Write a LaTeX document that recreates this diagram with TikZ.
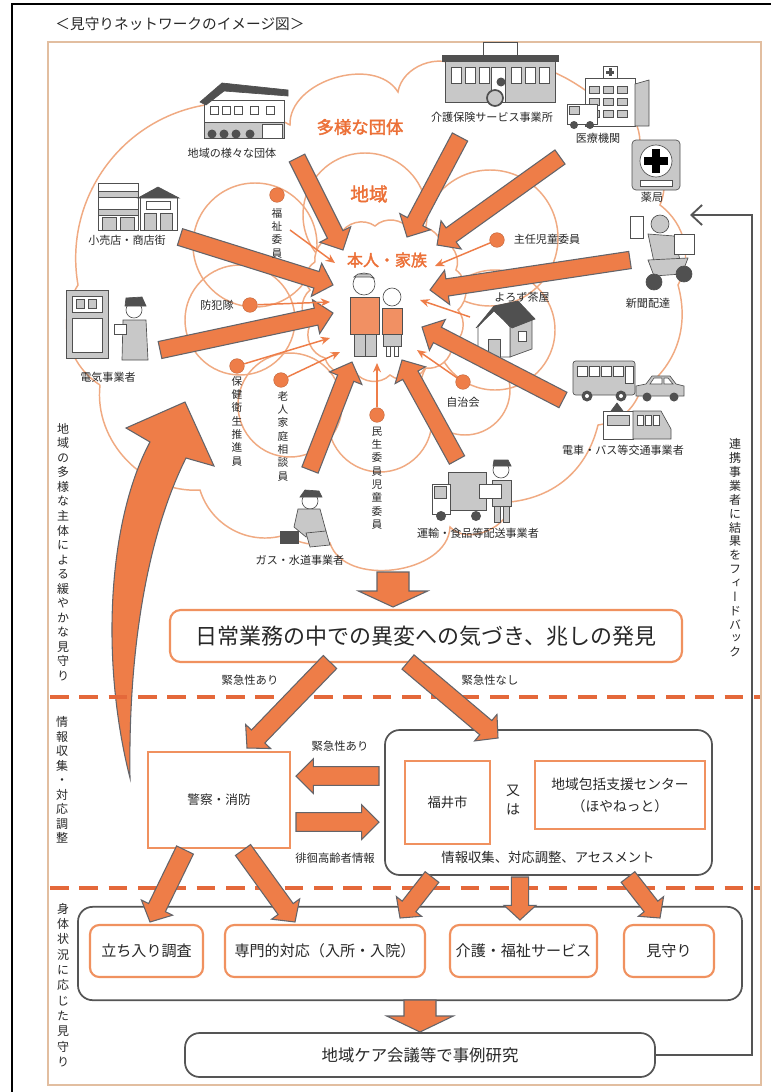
\documentclass[tikz,border=0pt]{standalone}
\usepackage{fontspec}
\setmainfont{Noto Sans CJK JP}
\newfontfamily\vjp[RawFeature={+vert}]{Noto Sans CJK JP}
\newfontfamily\jpbold[FakeBold=2]{Noto Sans CJK JP}
\usetikzlibrary{calc,arrows.meta}

\definecolor{arrowfill}{RGB}{238,125,72}
\definecolor{arrowedge}{RGB}{100,100,105}
\definecolor{cloudline}{RGB}{240,170,130}
\definecolor{boxorange}{RGB}{240,145,95}
\definecolor{dashorange}{RGB}{228,104,58}
\definecolor{panelline}{RGB}{226,190,160}
\definecolor{labelorange}{RGB}{236,112,55}
\definecolor{iconfill}{RGB}{200,200,200}
\definecolor{icondark}{RGB}{80,80,80}
\definecolor{grayline}{RGB}{85,85,85}
\definecolor{textgray}{RGB}{40,40,40}

\tikzset{
  fat/.style={fill=arrowfill, draw=arrowedge, line width=0.8pt, line join=miter},
  thinarrow/.style={draw=arrowfill, line width=1.1pt, -{Stealth[length=7pt,width=6pt]}},
  cloudedge/.style={draw=cloudline, line width=1.1pt},
  itemlabel/.style={font=\fontsize{8.3}{9}\selectfont, text=textgray, inner sep=0pt},
  memberlabel/.style={font=\vjp\fontsize{8}{10}\selectfont, align=center, inner sep=0pt, text=textgray},
  sidelabel/.style={font=\vjp\fontsize{9}{10.9}\selectfont, align=center, inner sep=0pt, text=textgray},
  cloudlabel/.style={font=\jpbold, text=labelorange, inner sep=0pt},
  memberdot/.style={circle, fill=arrowfill, draw=arrowfill!80!black, line width=0.3pt, minimum size=11pt, inner sep=0pt},
  obox/.style={draw=boxorange, line width=1.6pt, fill=white, inner sep=0pt, text=textgray},
  gbox/.style={draw=grayline, line width=1.3pt, rounded corners=11pt, inner sep=0pt},
  smalltext/.style={font=\fontsize{8.5}{9}\selectfont, text=textgray, inner sep=0pt},
  dashsep/.style={draw=dashorange, line width=3pt, dash pattern=on 14pt off 8pt},
  icon/.style={fill=iconfill, draw=icondark, line width=0.5pt},
  iconw/.style={fill=white, draw=icondark, line width=0.5pt},
  icond/.style={fill=icondark, draw=icondark, line width=0.5pt},
  feedback/.style={draw=grayline, line width=1.4pt, -{Straight Barb[length=8pt,width=15pt]}},
}

% broad arrow: tail, tip, half shaft width, half head width, head length
\newcommand\fatarrow[5]{%
  \coordinate (fabase) at ($(#2)!#5!(#1)$);
  \draw[fat] ($(#1)!#3!90:(#2)$) -- ($(fabase)!#3!90:(#2)$) -- ($(fabase)!#4!90:(#2)$) -- (#2)
    -- ($(fabase)!#4!-90:(#2)$) -- ($(fabase)!#3!-90:(#2)$) -- ($(#1)!#3!-90:(#2)$) -- cycle;}

\begin{document}
\begin{tikzpicture}[x=0.75pt, y=-0.75pt]
\fill[white] (0,0) rectangle (771,1092);
\useasboundingbox (0,0) rectangle (771,1092);

% ---------- frame and panel ----------
\draw[line width=1.4pt] (12,1092) -- (12,4) -- (771,4);
\node[font=\fontsize{11}{12}\selectfont, text=textgray, inner sep=0pt] (title) at (180,24) {＜見守りネットワークのイメージ図＞};
\draw[draw=panelline, line width=1.6pt] (48,42) rectangle (761,1085);

% ---------- outer cloud: various organisations ----------
\draw[cloudedge] (100,385) to[bend left=45] (78,285) to[bend left=45] (205,105)
  to[bend left=15] (290,125) to[bend left=75] (398,92) to[bend left=60] (460,68)
  to[bend left=25] (585,90) to[bend left=45] (640,142) to[bend left=40] (660,205)
  to[bend left=40] (678,285) to[bend left=35] (640,392) to[bend left=30] (598,425)
  to[bend left=35] (510,502) to[bend left=70] (450,527) to[bend left=80] (330,543)
  to[bend left=20] (285,535) to[bend left=45] (200,490) to[bend left=50] (100,385);

% ---------- middle cloud: local community (overlapping circles) ----------
\foreach \cx/\cy/\r in {255/245/62, 365/215/62, 490/238/68, 495/330/60, 465/390/45,
                        380/420/52, 290/405/52, 240/320/55}
  \draw[cloudedge] (\cx,\cy) circle (\r);

% ---------- inner cloud around the family ----------
\draw[cloudedge, fill=white] (315,262) to[bend left=50] (340,235) to[bend left=50] (375,226)
  to[bend left=50] (410,230) to[bend left=50] (440,240) to[bend left=50] (456,270)
  to[bend left=50] (458,310) to[bend left=50] (452,345) to[bend left=50] (425,368)
  to[bend left=50] (390,375) to[bend left=50] (355,372) to[bend left=50] (325,358)
  to[bend left=50] (310,325) to[bend left=50] (310,290) to[bend left=50] (315,262);

% ---------- pictograms ----------
% community group house
\begin{scope}[shift={(200,80)}]
  \draw[iconw] (4,20) rectangle (84,58);
  \draw[icon] (4,42) rectangle (84,58);
  \draw[icond] (0,22) -- (22,3) -- (88,10) -- (88,16) -- (24,11) -- (6,25) -- cycle;
  \foreach \x in {10,22,34,50,66} \draw[iconw] (\x,26) rectangle ++(8,8);
  \draw[iconw] (62,44) rectangle (82,58);
  \foreach \x in {12,24,36,50} \fill[icondark] (\x,54) circle (4.5);
\end{scope}
% care service office
\begin{scope}[shift={(445,40)}]
  \draw[icon] (0,20) rectangle (110,62);
  \draw[icond] (-3,15) rectangle (113,21);
  \draw[iconw] (38,2) rectangle (72,15);
  \foreach \x in {6,20,34,66,80,94} \draw[iconw] (\x,27) rectangle ++(10,16);
  \draw[iconw] (46,27) rectangle (60,62);
  \draw[icondark, line width=1.3pt, fill=iconfill] (50,58) circle (8);
  \fill[icondark] (56,42) circle (4.5);
\end{scope}
% hospital
\begin{scope}[shift={(567,66)}]
  \draw[iconw] (18,12) rectangle (68,60);
  \draw[icon] (68,18) -- (82,14) -- (82,60) -- (68,60) -- cycle;
  \foreach \y in {20,32,44} \foreach \x in {22,36,50} \draw[icon] (\x,\y) rectangle ++(10,7);
  \draw[iconw] (36,0) rectangle (50,12);
  \fill[icondark] (41.5,2) rectangle (44.5,10);
  \fill[icondark] (39,4.5) rectangle (47,7.5);
  \draw[iconw] (0,38) rectangle (30,58);
  \draw[icon] (2,40) rectangle (12,48);
  \fill[icondark] (7,59) circle (4) (23,59) circle (4);
\end{scope}
% pharmacy sign
\begin{scope}[shift={(632,140)}]
  \draw[icon, rounded corners=3pt] (0,0) rectangle (48,50);
  \draw[iconw] (24,21) circle (16);
  \fill[black] (20,9) rectangle (28,33);
  \fill[black] (12,17) rectangle (36,25);
  \draw[iconw] (8,40) rectangle (40,46);
\end{scope}
% newspaper delivery rider
\begin{scope}[shift={(630,210)}]
  \draw[iconw] (0,6) rectangle (13,28);
  \draw[icon] (30,14) circle (9);
  \draw[icon] (18,24) -- (44,26) -- (50,50) -- (24,52) -- cycle;
  \draw[iconw] (44,24) rectangle (64,44);
  \draw[icon] (18,50) -- (58,48) -- (52,64) -- (24,66) -- cycle;
  \draw[icond] (24,72) circle (8);
  \draw[icond] (54,64) circle (8);
\end{scope}
% shops
\begin{scope}[shift={(98,183)}]
  \draw[iconw] (0,0) rectangle (40,47);
  \draw[icon] (0,8) rectangle (40,14);
  \draw[icon] (0,26) rectangle (40,32);
  \draw[icon] (4,34) rectangle (18,47);
  \draw[icon] (22,34) rectangle (36,47);
  \draw[iconw] (42,14) rectangle (79,47);
  \draw[icond] (40,15) -- (60,4) -- (81,15) -- cycle;
  \draw[icon] (46,30) rectangle (58,47);
  \draw[icon] (62,30) rectangle (74,47);
  \draw[iconw] (48,18) rectangle (72,26);
\end{scope}
% electricity meter and reader
\begin{scope}[shift={(66,290)}]
  \draw[icon] (0,0) rectangle (42,68);
  \draw[iconw] (6,6) rectangle (36,22);
  \draw[icon] (10,9) rectangle (18,18);
  \draw[icon] (22,9) rectangle (30,18);
  \draw[iconw] (6,28) rectangle (36,62);
  \draw[iconw] (68,20) circle (8);
  \draw[icond] (59,16) -- (60,8) -- (76,7) -- (80,16) -- cycle;
  \draw[icon] (57,30) -- (80,30) -- (82,70) -- (56,70) -- cycle;
  \draw[iconw] (48,34) rectangle (60,44);
\end{scope}
% tea room house
\begin{scope}[shift={(478,303)}]
  \draw[icon] (32,24) -- (54,16) -- (54,46) -- (32,54) -- cycle;
  \draw[iconw] (0,24) -- (16,6) -- (32,24) -- (32,54) -- (0,54) -- cycle;
  \draw[icond] (-2,25) -- (16,3) -- (40,-2) -- (57,16) -- (34,25) -- (16,8) -- cycle;
  \draw[icon] (10,36) rectangle (22,54);
  \draw[iconw] (40,28) rectangle (48,38);
\end{scope}
% bus, car and train
\begin{scope}[shift={(573,361)}]
  \draw[icon, rounded corners=2pt] (0,0) rectangle (62,34);
  \foreach \x in {4,16,28,40} \draw[iconw] (\x,5) rectangle ++(10,10);
  \draw[iconw] (52,5) rectangle (60,22);
  \fill[icondark] (14,35) circle (5.5) (48,35) circle (5.5);
  \fill[white] (14,35) circle (2) (48,35) circle (2);
\end{scope}
\begin{scope}[shift={(636,374)}]
  \draw[icon] (0,12) -- (10,10) -- (16,2) -- (34,2) -- (40,10) -- (48,12) -- (48,22) -- (0,22) -- cycle;
  \draw[iconw] (18,4) -- (26,4) -- (26,10) -- (14,10) -- cycle;
  \draw[iconw] (28,4) -- (32,4) -- (37,10) -- (28,10) -- cycle;
  \fill[icondark] (11,23) circle (4.5) (38,23) circle (4.5);
\end{scope}
\begin{scope}[shift={(603,403)}]
  \draw[icond] (8,8) -- (14,0) -- (20,8);
  \draw[iconw] (0,8) rectangle (30,36);
  \draw[icon] (30,8) -- (58,8) -- (68,26) -- (68,36) -- (30,36) -- cycle;
  \foreach \x in {34,42,50} \draw[iconw] (\x,12) rectangle ++(6,10);
  \draw[icon] (4,12) rectangle (26,22);
\end{scope}
% delivery truck and driver
\begin{scope}[shift={(432,472)}]
  \draw[icon] (16,0) rectangle (54,38);
  \draw[iconw] (0,12) rectangle (18,42);
  \draw[icon] (2,14) rectangle (14,26);
  \fill[icondark] (9,44) circle (5) (44,44) circle (5);
\end{scope}
\begin{scope}[shift={(487,458)}]
  \draw[iconw] (14,12) circle (8);
  \draw[icond] (6,8) -- (7,2) -- (21,2) -- (24,8) -- cycle;
  \draw[icon] (5,22) rectangle (24,48);
  \draw[iconw] (-8,26) rectangle (14,40);
  \draw[icon] (7,48) rectangle (13,64);
  \draw[icon] (16,48) rectangle (22,64);
\end{scope}
% gas and water worker
\begin{scope}[shift={(280,487)}]
  \draw[iconw] (30,14) circle (8);
  \draw[icond] (20,10) -- (25,3) -- (39,4) -- (42,10) -- cycle;
  \draw[icon] (18,22) -- (40,22) -- (46,44) -- (26,50) -- (14,40) -- cycle;
  \draw[icon] (26,46) -- (46,44) -- (50,58) -- (30,60) -- cycle;
  \draw[icond] (0,44) rectangle (18,56);
\end{scope}
% elderly couple
\begin{scope}[shift={(348,272)}]
  \draw[iconw] (16,12) circle (11);
  \draw[icon] (6,5) -- (10,2) -- (22,2) -- (26,6) -- (22,5) -- (10,5) -- cycle;
  \draw[fill=arrowfill!85, draw=icondark, line width=0.5pt] (2,25) rectangle (31,62);
  \draw[icon] (6,62) rectangle (28,84);
  \draw[icondark] (17,62) -- (17,84);
  \draw[iconw] (44,25) circle (9);
  \draw[fill=arrowfill!85, draw=icondark, line width=0.5pt] (34,36) rectangle (54,62);
  \draw[icon] (35,62) rectangle (53,74);
  \draw[iconw] (38,74) rectangle (42,84);
  \draw[iconw] (46,74) rectangle (50,84);
\end{scope}

% ---------- broad arrows toward the family ----------
\coordinate (t1) at (297,158); \coordinate (h1) at (343,250);
\coordinate (t2) at (460,137); \coordinate (h2) at (407,237);
\coordinate (t3) at (560,157); \coordinate (h3) at (437,245);
\coordinate (t4) at (630,260); \coordinate (h4) at (430,290);
\coordinate (t5) at (563,400); \coordinate (h5) at (422,327);
\coordinate (t6) at (457,460); \coordinate (h6) at (402,360);
\coordinate (t7) at (310,470); \coordinate (h7) at (352,362);
\coordinate (t8) at (160,350); \coordinate (h8) at (333,313);
\coordinate (t9) at (180,237); \coordinate (h9) at (333,285);
\foreach \i in {1,...,9} {\fatarrow{t\i}{h\i}{6.5pt}{13pt}{13pt}}

% ---------- curved arrow: gentle watching by many actors ----------
\filldraw[fat] (185,402) -- (214,466) -- (186,458)
  .. controls (150,530) and (128,640) .. (130,778)
  .. controls (100,660) and (108,520) .. (150,442)
  -- (126,428) -- cycle;

% ---------- local members (dots, labels, thin arrows) ----------
\node[memberdot] (dfukushi) at (277,195) {};
\node[memberdot] (dshunin) at (497,240) {};
\node[memberdot] (dbouhan) at (250,305) {};
\node[memberdot] (djichi) at (463,382) {};
\node[memberdot] (dminsei) at (377,415) {};
\node[memberdot] (droujin) at (281,380) {};
\node[memberdot] (dhoken) at (237,366) {};

\coordinate (afukushi) at (335,263);
\coordinate (ashunin) at (435,266);
\coordinate (abouhan) at (330,302);
\coordinate (ayorozu) at (420,300);
\coordinate (ajichi) at (417,350);
\coordinate (aminsei) at (377,363);
\coordinate (aroujin) at (340,352);
\coordinate (ahoken) at (330,338);
\coordinate (syorozu) at (470,317);
\coordinate (sfukushi) at (290,230);

\draw[thinarrow] (sfukushi) -- (afukushi);
\draw[thinarrow] (dshunin) -- (ashunin);
\draw[thinarrow] (dbouhan) -- (abouhan);
\draw[thinarrow] (syorozu) -- (ayorozu);
\draw[thinarrow] (djichi) -- (ajichi);
\draw[thinarrow] (dminsei) -- (aminsei);
\draw[thinarrow] (droujin) -- (aroujin);
\draw[thinarrow] (dhoken) -- (ahoken);

\node[memberlabel] (lfukushi) at (277,233) {福\\祉\\委\\員};
\node[itemlabel] (lshunin) at (547,239) {主任児童委員};
\node[itemlabel] (lbouhan) at (217,305) {防犯隊};
\node[itemlabel] (lyorozu) at (522,297) {よろず茶屋};
\node[itemlabel] (ljichi) at (463,402) {自治会};
\node[memberlabel] (lminsei) at (377,478) {民\\生\\委\\員\\児\\童\\委\\員};
\node[memberlabel] (lroujin) at (283,436) {老\\人\\家\\庭\\相\\談\\員};
\node[memberlabel] (lhoken) at (237,421) {保\\健\\衛\\生\\推\\進\\員};

% ---------- organisation labels ----------
\node[itemlabel] (ldantai) at (232,153) {地域の様々な団体};
\node[itemlabel] (lkaigo) at (492,117) {介護保険サービス事業所};
\node[itemlabel] (liryou) at (598,138) {医療機関};
\node[itemlabel] (lyakkyoku) at (652,197) {薬局};
\node[itemlabel] (lshinbun) at (648,303) {新聞配達};
\node[itemlabel] (lshouten) at (127,240) {小売店・商店街};
\node[itemlabel] (ldenki) at (108,377) {電気事業者};
\node[itemlabel] (lkoutsu) at (623,450) {電車・バス等交通事業者};
\node[itemlabel] (lunyu) at (478,533) {運輸・食品等配送事業者};
\node[itemlabel] (lgas) at (300,560) {ガス・水道事業者};

\node[cloudlabel, font=\jpbold\fontsize{13}{14}\selectfont] (ltayou) at (360,127) {多様な団体};
\node[cloudlabel, font=\jpbold\fontsize{14}{15}\selectfont] (lchiiki) at (369,194) {地域};
\node[cloudlabel, font=\jpbold\fontsize{12}{13}\selectfont] (lhonnin) at (387,260) {本人・家族};

% ---------- detection and coordination ----------
\coordinate (dtail) at (393,572); \coordinate (dtip) at (393,607);
\fatarrow{dtail}{dtip}{12pt}{26pt}{12pt}

\node[obox, rounded corners=8pt, minimum width=384pt, minimum height=39pt,
      font=\fontsize{16.5}{18}\selectfont] (kizuki) at (426,636) {日常業務の中での異変への気づき、兆しの発見};

\node[smalltext] (kin1) at (250,680) {緊急性あり};
\node[smalltext] (kin2) at (490,680) {緊急性なし};

\draw[dashsep] (50,697) -- (760,697);
\draw[dashsep] (50,888) -- (760,888);

\node[obox, minimum width=106.5pt, minimum height=72pt, font=\fontsize{9.5}{11}\selectfont] (keisatsu) at (219,800) {警察・消防};
\node[gbox, minimum width=245.25pt, minimum height=108.75pt] (center) at (548.5,802.5) {};
\node[obox, minimum width=63.75pt, minimum height=62.25pt, font=\fontsize{10}{11}\selectfont] (fukui) at (447.5,802.5) {福井市};
\node[font=\fontsize{10.5}{14}\selectfont, align=center, inner sep=0pt, text=textgray] (mataha) at (513,800) {又\\は};
\node[obox, minimum width=127.5pt, minimum height=51pt, align=center,
      font=\fontsize{10.3}{16.5}\selectfont] (houkatsu) at (620,795) {地域包括支援センター\\（ほやねっと）};
\node[font=\fontsize{10}{11}\selectfont, text=textgray, inner sep=0pt] (assess) at (548,857) {情報収集、対応調整、アセスメント};
\node[smalltext] (kin3) at (340,746) {緊急性あり};
\node[smalltext] (haikai) at (335,858) {徘徊高齢者情報};

\coordinate (k1) at (330,662); \coordinate (k1e) at (247,748);
\coordinate (k2) at (408,662); \coordinate (k2e) at (498,738);
\fatarrow{k1}{k1e}{7pt}{13pt}{12pt}
\fatarrow{k2}{k2e}{7pt}{13pt}{12pt}

\coordinate (l1) at (379,776); \coordinate (l1e) at (296,776);
\coordinate (r1) at (296,822); \coordinate (r1e) at (379,822);
\fatarrow{l1}{l1e}{7pt}{13pt}{13pt}
\fatarrow{r1}{r1e}{7pt}{13pt}{13pt}

% ---------- responses according to condition ----------
\node[gbox, minimum width=498pt, minimum height=70pt] (taiou) at (410,953.5) {};
\node[obox, rounded corners=7pt, minimum width=84.75pt, minimum height=39pt, font=\fontsize{11.3}{12}\selectfont] (tachiiri) at (146.5,951) {立ち入り調査};
\node[obox, rounded corners=7pt, minimum width=150pt, minimum height=39pt, font=\fontsize{11.3}{12}\selectfont] (senmon) at (325,951) {専門的対応（入所・入院）};
\node[obox, rounded corners=7pt, minimum width=110.25pt, minimum height=39pt, font=\fontsize{11.3}{12}\selectfont] (kaigosv) at (523.5,951) {介護・福祉サービス};
\node[obox, rounded corners=7pt, minimum width=67.5pt, minimum height=39pt, font=\fontsize{11.3}{12}\selectfont] (mimamori) at (669,951) {見守り};

\coordinate (p1) at (185,850); \coordinate (p1e) at (150,922);
\coordinate (p2) at (243,850); \coordinate (p2e) at (295,922);
\coordinate (q1) at (432,877); \coordinate (q1e) at (400,918);
\coordinate (q2) at (520,877); \coordinate (q2e) at (520,920);
\coordinate (q3) at (628,877); \coordinate (q3e) at (660,918);
\fatarrow{p1}{p1e}{7pt}{13pt}{12pt}
\fatarrow{p2}{p2e}{7pt}{13pt}{12pt}
\fatarrow{q1}{q1e}{6.5pt}{12pt}{11pt}
\fatarrow{q2}{q2e}{6.5pt}{12pt}{11pt}
\fatarrow{q3}{q3e}{6.5pt}{12pt}{11pt}

\coordinate (btail) at (420,1000); \coordinate (btip) at (420,1032);
\fatarrow{btail}{btip}{12pt}{25pt}{12pt}

\node[gbox, minimum width=352.5pt, minimum height=33pt, font=\fontsize{12.3}{13}\selectfont, text=textgray] (kenkyu) at (420,1055) {地域ケア会議等で事例研究};

% feedback to the partner businesses
\coordinate (fbcorner) at (752,215);
\coordinate (fbend) at (690,215);
\draw[feedback] (kenkyu.east) -| (fbcorner) -- (fbend);

% ---------- side captions ----------
\node[sidelabel] (side1) at (63,552) {地\\域\\の\\多\\様\\な\\主\\体\\に\\よ\\る\\緩\\や\\か\\な\\見\\守\\り};
\node[sidelabel] (side2) at (62,780) {情\\報\\収\\集\\・\\対\\応\\調\\整};
\node[sidelabel, font=\vjp\fontsize{9}{11.5}\selectfont] (side3) at (63,985) {身\\体\\状\\況\\に\\応\\じ\\た\\見\\守\\り};
\node[sidelabel, font=\vjp\fontsize{9}{10.4}\selectfont] (side4) at (735,548) {連\\携\\事\\業\\者\\に\\結\\果\\を\\フ\\ィ\\ー\\ド\\バ\\ッ\\ク};
\end{tikzpicture}
\end{document}
